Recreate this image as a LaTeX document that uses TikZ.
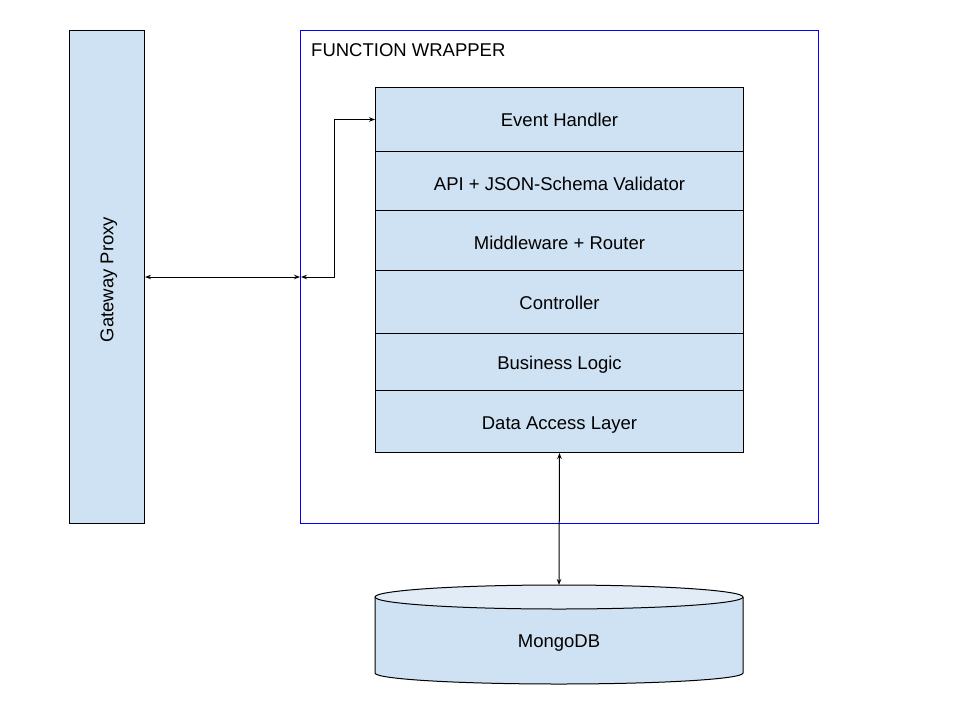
\documentclass[tikz,border=0pt]{standalone}
\usepackage{fontspec}
\setmainfont{Liberation Sans}
\usetikzlibrary{arrows.meta}
\definecolor{boxfill}{HTML}{CFE2F3}
\definecolor{topfill}{HTML}{E1ECF7}
\tikzset{
  txt/.style={font=\fontsize{18.5}{21}\selectfont, text height=13.3pt, text depth=3.9pt},
  layer/.style={txt, draw=black, line width=1pt, fill=boxfill, minimum width=368pt, anchor=north west, inner sep=0pt},
  conn/.style={line width=1pt, {Stealth[length=6pt,width=4.5pt]}-{Stealth[length=6pt,width=4.5pt]}},
}
\begin{document}
\begin{tikzpicture}[x=1pt,y=-1pt]
\useasboundingbox (0,0) rectangle (960,720);
% Gateway proxy
\node[draw=black, line width=1pt, fill=boxfill, minimum width=75pt, minimum height=493pt, inner sep=0pt, anchor=north west] (gw) at (69,30) {};
\node[txt, rotate=90] (gwt) at ([shift={(1.7,2.5)}]gw.center) {Gateway Proxy};
% Function wrapper
\node[draw={rgb,255:red,0;green,0;blue,255}, line width=1pt, minimum width=518pt, minimum height=493pt, inner sep=0pt, anchor=north west] (fw) at (300,30) {};
\node[font=\fontsize{18.5}{21}\selectfont, anchor=west, inner sep=0pt] (fwt) at (311,50.3) {FUNCTION WRAPPER};
% Layers
\node[layer, minimum height=64pt, text height=18.7pt] (r1) at (375,87) {Event Handler};
\node[layer, minimum height=59pt, text height=22.7pt] (r2) at (375,151) {API + JSON-Schema Validator};
\node[layer, minimum height=60pt, text height=22.1pt] (r3) at (375,210) {Middleware + Router};
\node[layer, minimum height=63pt, text height=19.1pt] (r4) at (375,270) {Controller};
\node[layer, minimum height=57pt, text height=18.1pt] (r5) at (375,333) {Business Logic};
\node[layer, minimum height=62pt, text height=20.1pt] (r6) at (375,390) {Data Access Layer};
% MongoDB cylinder
\fill[boxfill] (375,597) -- (375,673) arc[start angle=180, end angle=0, x radius=184, y radius=11] -- (743,597) -- cycle;
\draw[line width=1pt] (375,597) -- (375,673) arc[start angle=180, end angle=0, x radius=184, y radius=11] -- (743,597);
\draw[line width=1pt, fill=topfill] (559,597) ellipse[x radius=184, y radius=12];
\node[txt] (db) at (559,642.4) {MongoDB};
\coordinate (dbtop) at (559,585);
\coordinate (win) at (301,277);
% Connectors
\draw[conn] (gw.east |- win) -- (fw.west |- win);
\draw[conn] (win) -- ++(33,0) |- (r1.west);
\draw[conn] (r6.south) -- (dbtop);
\end{tikzpicture}
\end{document}
